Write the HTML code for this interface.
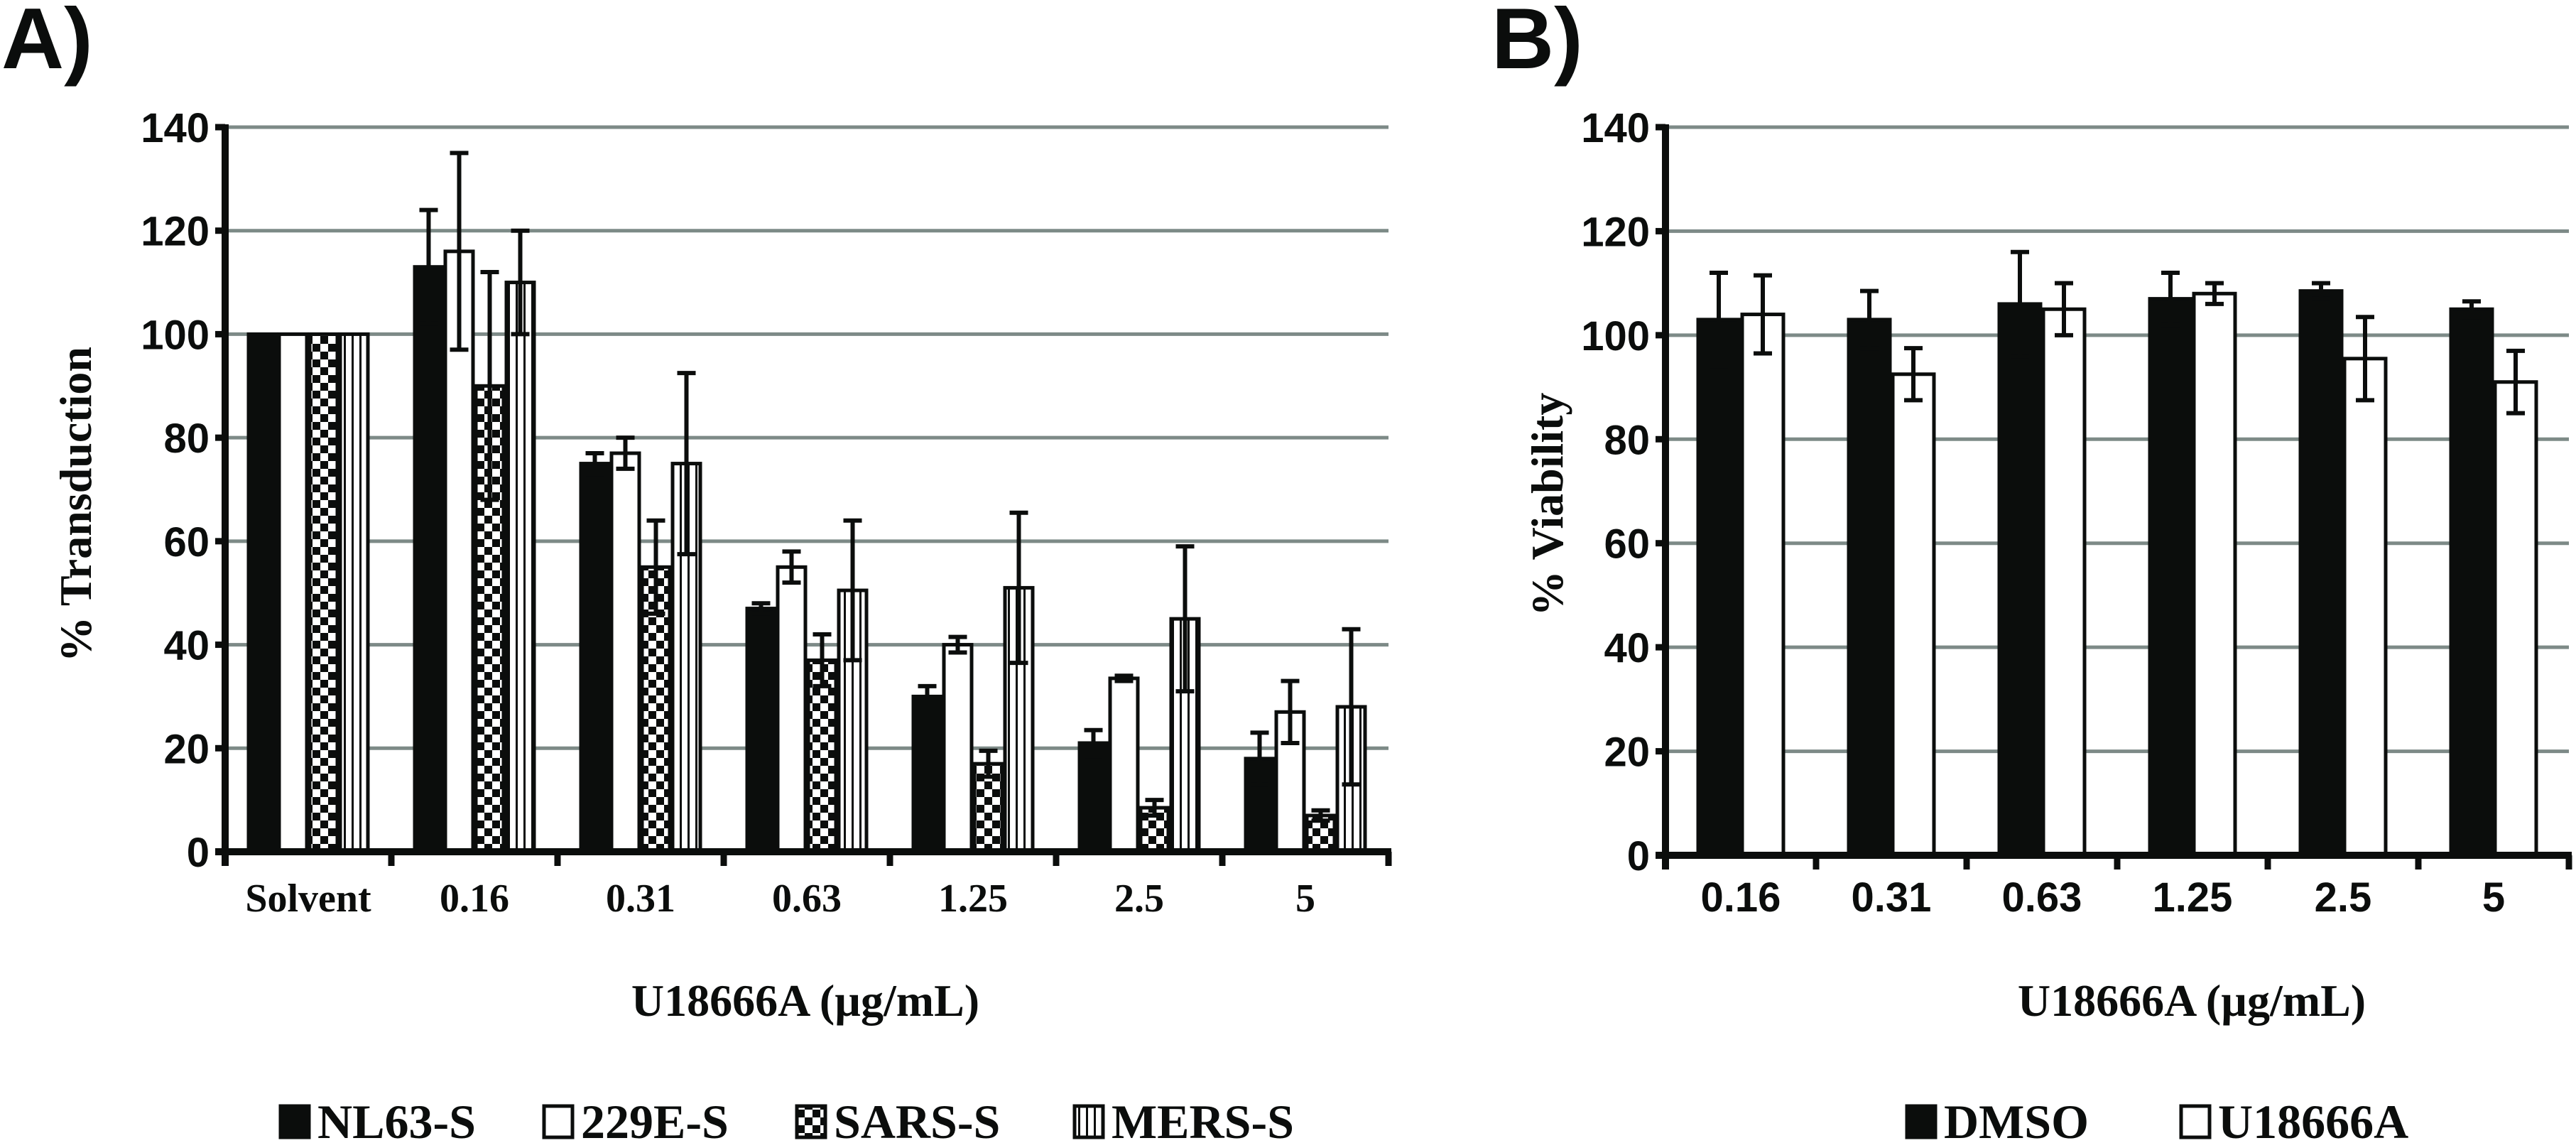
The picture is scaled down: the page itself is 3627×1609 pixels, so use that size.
<!DOCTYPE html>
<html><head><meta charset="utf-8"><style>
html,body{margin:0;padding:0;background:#fff;}
svg{display:block;}
.tk{font-family:"Liberation Sans",sans-serif;font-weight:bold;font-size:58px;fill:#0b0d0c;}
.sf{font-family:"Liberation Serif",serif;font-weight:bold;fill:#0b0d0c;}
</style></head><body>
<svg id="fig" width="3627" height="1609" viewBox="0 0 3627 1609" xmlns="http://www.w3.org/2000/svg">
<defs>
<pattern id="checker" patternUnits="userSpaceOnUse" width="22" height="22">
<rect width="22" height="22" fill="#fff"/><rect width="11" height="11" fill="#0b0d0c"/><rect x="11" y="11" width="11" height="11" fill="#0b0d0c"/>
</pattern>
<pattern id="stripes" patternUnits="userSpaceOnUse" width="11" height="20">
<rect width="11" height="20" fill="#fff"/><rect x="0" width="3" height="20" fill="#0b0d0c"/>
</pattern>
</defs>
<text x="2" y="96" style="font-family:'Liberation Sans',sans-serif;font-weight:bold;font-size:122px;fill:#0b0d0c">A)</text>
<text x="2100" y="96" style="font-family:'Liberation Sans',sans-serif;font-weight:bold;font-size:122px;fill:#0b0d0c">B)</text>
<g id="chartA"></g>
<g id="chartB"></g>
</svg>
<script>
const catsA = ["Solvent","0.16","0.31","0.63","1.25","2.5","5"];
const seriesNamesA = ["NL63-S","229E-S","SARS-S","MERS-S"];
const nl63 = [100,113,75,47,30,21,18];
const nl63Err = [0,11,2,1,2,2.5,5];
const e229 = [100,116,77,55,40,33.5,27];
const e229Err = [0,19,3,3,1.5,0.5,6];
const sars = [100,90,55,37,17,8.5,7];
const sarsErr = [0,22,9,5,2.5,1.5,1];
const mers = [100,110,75,50.5,51,45,28];
const mersErr = [0,10,17.5,13.5,14.5,14,15];
const catsB = ["0.16","0.31","0.63","1.25","2.5","5"];
const seriesNamesB = ["DMSO","U18666A"];
const dmso = [103,103,106,107,108.5,105];
const dmsoErr = [9,5.5,10,5,1.5,1.5];
const u186 = [104,92.5,105,108,95.5,91];
const u186Err = [7.5,5,5,2,8,6];
const yTicks = [0,20,40,60,80,100,120,140];

const NS="http://www.w3.org/2000/svg";
function mk(parent,tag,attrs){const e=document.createElementNS(NS,tag);for(const k in attrs)e.setAttribute(k,attrs[k]);parent.appendChild(e);return e;}

function drawChart(g, o){
  const y = v => o.y0 - (v/140)*(o.y0-o.y140);
  const catX = i => o.x0 + i*o.cw;
  // gridlines
  yTicks.forEach(t=>{
    if(t>0){const l=mk(g,'line',{x1:o.x0,x2:o.x0+o.cats.length*o.cw,y1:y(t),y2:y(t),stroke:'#7d8a87','stroke-width':5});
    
    }
    const tl=mk(g,'line',{x1:o.x0-14,x2:o.x0,y1:y(t),y2:y(t),stroke:'#0b0d0c','stroke-width':9});
    
    
    const tx=mk(g,'text',{x:o.x0-22,y:y(t)+21,'text-anchor':'end',class:'tk'});
    tx.textContent=t;
    
    
  });
  // bars
  const n=o.series.length;
  o.cats.forEach((c,i)=>{
    const cx=catX(i)+o.cw/2;
    const left=cx-n*o.bw/2;
    o.series.forEach((s,j)=>{
      const v=s.vals[i], bx=left+j*o.bw;
      const r=mk(g,'rect',{x:bx+2,y:y(v),width:o.bw-4,height:y(0)-y(v),fill:s.fill,stroke:'#0b0d0c','stroke-width':5});
      
      
      const e=s.err[i];
      if(e>0){
        const ex=bx+o.bw/2;
        const el=mk(g,'path',{d:`M${ex},${y(v+e)}V${y(v-e)}M${ex-13},${y(v+e)}H${ex+13}M${ex-13},${y(v-e)}H${ex+13}`,stroke:'#0b0d0c','stroke-width':6,fill:'none'});
        
        
      }
    });
    const lb=mk(g,'text',{x:cx,y:1283,'text-anchor':'middle',class:o.catClass,style:'font-size:'+o.catSize+'px'});
    lb.textContent=c;
    
    
    const xt=mk(g,'line',{x1:catX(i+1),x2:catX(i+1),y1:o.y0,y2:o.y0+20,stroke:'#0b0d0c','stroke-width':9});
    
    
  });
  const xa=mk(g,'line',{x1:o.x0-14,x2:o.x0+o.cats.length*o.cw+4,y1:o.y0,y2:o.y0,stroke:'#0b0d0c','stroke-width':10});
  
  
  const ya=mk(g,'line',{x1:o.x0,x2:o.x0,y1:o.y140-4,y2:o.y0+20,stroke:'#0b0d0c','stroke-width':10});
  
  
  const yt=mk(g,'text',{x:0,y:0,'text-anchor':'middle',class:'sf',style:'font-size:64px',transform:`translate(${o.ytx},${o.yty}) rotate(-90)`});
  yt.textContent=o.ytitle;
  
  
  const xtt=mk(g,'text',{x:o.xtx,y:1430,'text-anchor':'middle',class:'sf',style:'font-size:64px'});
  xtt.textContent='U18666A (µg/mL)';
  
  
  o.series.forEach((s,j)=>{
    const lx=o.legX[j];
    const sq=mk(g,'rect',{x:lx,y:1557,width:40,height:44,fill:s.fill,stroke:'#0b0d0c','stroke-width':5});
    
    
    const lt=mk(g,'text',{x:lx+52,y:1602,class:'sf',style:'font-size:68px'});
    lt.textContent=s.name;
    
    
  });
}

drawChart(document.getElementById('chartA'),{
  x0:317,cw:234,y0:1199,y140:179,bw:43,cats:catsA,catClass:'sf',catSize:56,
  series:[{name:seriesNamesA[0],vals:nl63,err:nl63Err,fill:'#0b0d0c'},
          {name:seriesNamesA[1],vals:e229,err:e229Err,fill:'#fff'},
          {name:seriesNamesA[2],vals:sars,err:sarsErr,fill:'url(#checker)'},
          {name:seriesNamesA[3],vals:mers,err:mersErr,fill:'url(#stripes)'}],
  ytitle:'% Transduction',ytx:128,yty:710,xtx:1134,legX:[395,766,1122,1513]
});
drawChart(document.getElementById('chartB'),{
  x0:2345,cw:212,y0:1204,y140:179,bw:62,cats:catsB,catClass:'tk',catSize:58,
  series:[{name:seriesNamesB[0],vals:dmso,err:dmsoErr,fill:'#0b0d0c'},
          {name:seriesNamesB[1],vals:u186,err:u186Err,fill:'#fff'}],
  ytitle:'% Viability',ytx:2200,yty:710,xtx:3086,legX:[2685,3071]
});
</script>
</body></html>
